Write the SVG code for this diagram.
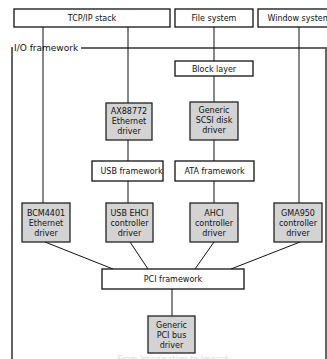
<svg xmlns="http://www.w3.org/2000/svg" width="327" height="359" viewBox="0 0 327 359">
  <style>
    .box { fill: #ffffff; stroke: #111111; stroke-width: 1.3; }
    .drv { fill: #d3d3d3; stroke: #222222; stroke-width: 1.3; }
    .lbl { font-family: "DejaVu Sans", "Liberation Sans", sans-serif; font-size: 8px; fill: #111111; text-anchor: middle; }
    .wire { stroke: #111111; stroke-width: 1; fill: none; }
    .frame { stroke: #555555; stroke-width: 1.8; fill: none; }
  </style>
  <rect width="327" height="359" fill="#ffffff"/>

  <!-- I/O framework enclosure -->
  <g id="io-framework">
    <rect class="frame" x="12" y="48" width="314" height="330"/>
    <rect x="13" y="42" width="68" height="11" fill="#ffffff"/>
    <text x="14" y="51" font-family="DejaVu Sans, Liberation Sans, sans-serif" font-size="9" fill="#111111">I/O framework</text>
  </g>

  <!-- connectors -->
  <g id="connectors">
    <line class="wire" x1="43" y1="27" x2="43" y2="203"/>
    <line class="wire" x1="128" y1="27" x2="128" y2="103"/>
    <line class="wire" x1="214" y1="27" x2="214" y2="61"/>
    <line class="wire" x1="299" y1="27" x2="299" y2="203"/>
    <line class="wire" x1="214" y1="76" x2="214" y2="102"/>
    <line class="wire" x1="128" y1="140" x2="128" y2="161"/>
    <line class="wire" x1="128" y1="181" x2="128" y2="203"/>
    <line class="wire" x1="214" y1="140" x2="214" y2="161"/>
    <line class="wire" x1="214" y1="181" x2="214" y2="203"/>
    <line class="wire" x1="45" y1="242" x2="113" y2="269"/>
    <line class="wire" x1="130" y1="242" x2="148" y2="269"/>
    <line class="wire" x1="214" y1="242" x2="195" y2="269"/>
    <line class="wire" x1="300" y1="242" x2="231" y2="269"/>
    <line class="wire" x1="172" y1="289" x2="172" y2="316"/>
  </g>

  <g id="tcpip-stack">
    <rect class="box" x="14" y="9" width="156" height="18"/>
    <text class="lbl" x="92" y="21">TCP/IP stack</text>
  </g>
  <g id="file-system">
    <rect class="box" x="175" y="9" width="78" height="18"/>
    <text class="lbl" x="214" y="21">File system</text>
  </g>
  <g id="window-system">
    <rect class="box" x="258" y="9" width="82" height="18"/>
    <text class="lbl" x="299" y="21">Window system</text>
  </g>
  <g id="block-layer">
    <rect class="box" x="175" y="61" width="78" height="15"/>
    <text class="lbl" x="214" y="71.5">Block layer</text>
  </g>

  <g id="ax88772">
    <rect class="drv" x="106" y="103" width="46" height="37"/>
    <text class="lbl" x="129" y="114">AX88772</text>
    <text class="lbl" x="129" y="124">Ethernet</text>
    <text class="lbl" x="129" y="134">driver</text>
  </g>
  <g id="scsi-disk">
    <rect class="drv" x="190" y="102" width="48" height="38"/>
    <text class="lbl" x="214" y="113">Generic</text>
    <text class="lbl" x="214" y="123">SCSI disk</text>
    <text class="lbl" x="214" y="133">driver</text>
  </g>

  <g id="usb-framework">
    <rect class="box" x="92" y="161" width="71" height="20"/>
    <text class="lbl" x="131.5" y="174">USB framework</text>
  </g>
  <g id="ata-framework">
    <rect class="box" x="175" y="161" width="79" height="20"/>
    <text class="lbl" x="214.5" y="174">ATA framework</text>
  </g>

  <g id="bcm4401">
    <rect class="drv" x="22" y="203" width="48" height="39"/>
    <text class="lbl" x="46" y="216">BCM4401</text>
    <text class="lbl" x="46" y="226">Ethernet</text>
    <text class="lbl" x="46" y="236">driver</text>
  </g>
  <g id="usb-ehci">
    <rect class="drv" x="106" y="203" width="47" height="39"/>
    <text class="lbl" x="129.5" y="216">USB EHCI</text>
    <text class="lbl" x="129.5" y="226">controller</text>
    <text class="lbl" x="129.5" y="236">driver</text>
  </g>
  <g id="ahci">
    <rect class="drv" x="190" y="203" width="48" height="39"/>
    <text class="lbl" x="214" y="216">AHCI</text>
    <text class="lbl" x="214" y="226">controller</text>
    <text class="lbl" x="214" y="236">driver</text>
  </g>
  <g id="gma950">
    <rect class="drv" x="274" y="203" width="48" height="39"/>
    <text class="lbl" x="298" y="216">GMA950</text>
    <text class="lbl" x="298" y="226">controller</text>
    <text class="lbl" x="298" y="236">driver</text>
  </g>

  <g id="pci-framework">
    <rect class="box" x="102" y="269" width="142" height="20"/>
    <text class="lbl" x="173" y="282">PCI framework</text>
  </g>
  <g id="pci-bus">
    <rect class="drv" x="148" y="316" width="47" height="37"/>
    <text class="lbl" x="171.5" y="328">Generic</text>
    <text class="lbl" x="171.5" y="338">PCI bus</text>
    <text class="lbl" x="171.5" y="348">driver</text>
  </g>

  <text x="173" y="361.5" font-family="DejaVu Sans, Liberation Sans, sans-serif" font-size="8" fill="#dddddd" text-anchor="middle">From Imagination to Impact</text>
</svg>
